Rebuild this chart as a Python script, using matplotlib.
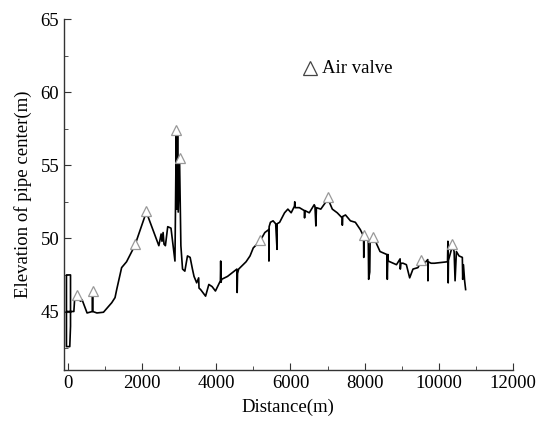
import matplotlib
matplotlib.use("Agg")
import matplotlib.pyplot as plt
from matplotlib.ticker import MultipleLocator

# Pipe profile (distance in m, elevation in m)
distance = [-50, -50, 60, 60, 40, -50, -50, 150, 170, 240, 330, 373, 507, 650, 655, 660, 773, 950,
            1173, 1262, 1307, 1440, 1573, 1795, 2107, 2285, 2445, 2507, 2530, 2560, 2585, 2622,
            2685, 2773, 2880, 2915, 2933, 2951, 2968, 3005, 3040, 3085, 3147, 3218, 3290, 3352,
            3395, 3467, 3520, 3530, 3573, 3707, 3795, 3884, 3973, 4107, 4115, 4125, 4140, 4300,
            4450, 4552, 4560, 4570, 4600, 4800, 4907, 4995, 5173, 5307, 5413, 5418, 5423, 5458,
            5529, 5600, 5636, 5640, 5707, 5840, 5929, 6018, 6107, 6115, 6125, 6240, 6373, 6380,
            6390, 6507, 6640, 6660, 6685, 6700, 6818, 7013, 7129, 7262, 7395, 7400, 7410, 7485,
            7618, 7751, 7885, 7973, 7978, 7990, 8100, 8110, 8140, 8151, 8240, 8285, 8329, 8418,
            8507, 8600, 8614, 8630, 8640, 8773, 8862, 8960, 8965, 8980, 9040, 9129, 9218, 9307,
            9440, 9529, 9618, 9707, 9712, 9720, 9796, 9885, 10240, 10250, 10258, 10265, 10329,
            10373, 10418, 10444, 10480, 10551, 10640, 10650, 10670, 10702, 10729]
elevation = [45.0, 47.5, 47.5, 44.0, 42.6, 42.6, 45.0, 45.0, 45.8, 46.0, 45.7, 45.8, 44.9, 45.0, 46.2,
             45.0, 44.9, 44.95, 45.6, 45.95, 46.5, 48.0, 48.4, 49.5, 51.8, 50.6, 49.5, 50.3, 49.8,
             50.4, 49.6, 49.5, 50.8, 50.7, 48.45, 57.2, 52.0, 57.0, 51.8, 55.3, 49.5, 47.9, 47.76,
             48.8, 48.7, 47.9, 47.4, 46.96, 47.3, 46.6, 46.5, 46.05, 46.85, 46.7, 46.4, 47.1, 48.45,
             47.0, 47.2, 47.4, 47.7, 47.9, 46.3, 47.6, 47.9, 48.4, 48.8, 49.35, 49.8, 50.4, 50.6,
             48.45, 50.8, 51.1, 51.2, 51.0, 49.25, 51.0, 51.1, 51.75, 52.0, 51.75, 52.2, 52.5,
             52.1, 52.1, 51.9, 51.4, 51.9, 51.75, 52.3, 52.2, 50.85, 52.1, 52.0, 52.7, 52.0,
             51.75, 51.4, 50.9, 51.5, 51.6, 51.2, 51.1, 50.6, 50.15, 48.7, 50.0, 49.9, 47.2,
             47.7, 49.9, 50.0, 49.9, 49.6, 49.1, 49.0, 48.9, 47.2, 48.9, 48.45, 48.3, 48.2, 48.6,
             47.9, 48.3, 48.3, 48.2, 47.3, 47.9, 48.0, 48.4, 48.3, 48.55, 47.1, 48.4, 48.3, 48.3,
             48.4, 49.8, 46.96, 48.5, 49.1, 49.5, 49.1, 47.1, 49.1, 48.8, 48.7, 47.2, 48.2, 47.1,
             46.5]

# Air valve locations
valve_distance = [240, 660, 1795, 2107, 2915, 3005, 5173, 7013, 7973, 8240, 9529, 10373]
valve_elevation = [46.1, 46.4, 49.6, 51.9, 57.4, 55.5, 49.9, 52.8, 50.2, 50.1, 48.5, 49.6]

xticks = [0, 2000, 4000, 6000, 8000, 10000, 12000]
yticks = [45, 50, 55, 60, 65]

plt.rcParams['font.family'] = ['Liberation Serif', 'DejaVu Serif']

fig = plt.figure(figsize=(5.45, 4.25), dpi=100)
left_px, right_px, top_px, bottom_px = 64, 512.7, 19, 370
ax = fig.add_axes([left_px/545, 1 - bottom_px/425, (right_px - left_px)/545, (bottom_px - top_px)/425])

ax.plot(distance, elevation, color='black', lw=1.2, zorder=2)
ax.plot(valve_distance, valve_elevation, linestyle='none', marker='^', markersize=7,
        markerfacecolor='white', markeredgecolor='#999999', markeredgewidth=0.9, zorder=3)

ax.set_xlim(-116, 12000)
ax.set_ylim(41, 65)
ax.set_xticks(xticks)
ax.set_yticks(yticks)
ax.xaxis.set_minor_locator(MultipleLocator(1000))
ax.yaxis.set_minor_locator(MultipleLocator(2.5))
ax.tick_params(which='both', direction='in', labelsize=13.5, color='#333333')
ax.tick_params(which='major', length=5)
ax.tick_params(which='minor', length=3)
ax.spines['top'].set_visible(False)
ax.spines['right'].set_visible(False)
for s in ('left', 'bottom'):
    ax.spines[s].set_color('#333333')
    ax.spines[s].set_linewidth(1.0)

ax.set_xlabel('Distance(m)', fontsize=13.5, labelpad=5)
ax.set_ylabel('Elevation of pipe center(m)', fontsize=13.5)
ax.yaxis.set_label_coords(-0.072, 0.5)

# Legend-like annotation
ax.plot([6527], [61.65], linestyle='none', marker='^', markersize=9.5,
        markerfacecolor='white', markeredgecolor='#444444', markeredgewidth=0.9, clip_on=False)
ax.text(6850, 61.6, 'Air valve', fontsize=13.5, va='center', ha='left')

fig.savefig('out.png', dpi=100)
